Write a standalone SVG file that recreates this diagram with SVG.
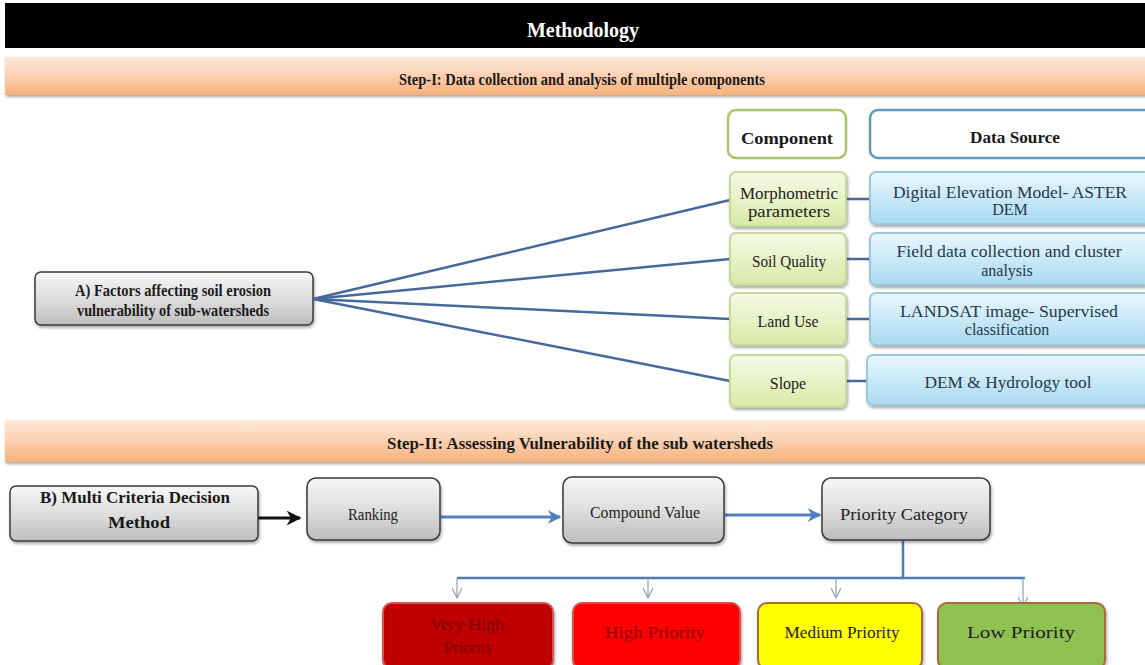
<svg xmlns="http://www.w3.org/2000/svg" width="1145" height="665" viewBox="0 0 1145 665">
<defs>
<linearGradient id="peach" x1="0" y1="0" x2="0" y2="1">
<stop offset="0" stop-color="#fde9d9"/><stop offset="0.5" stop-color="#fbd0b0"/><stop offset="1" stop-color="#f7b07a"/>
</linearGradient>
<linearGradient id="gray" x1="0" y1="0" x2="0" y2="1">
<stop offset="0" stop-color="#f7f7f7"/><stop offset="0.5" stop-color="#dedede"/><stop offset="1" stop-color="#bdbdbd"/>
</linearGradient>
<linearGradient id="green" x1="0" y1="0" x2="0" y2="1">
<stop offset="0" stop-color="#f6fae8"/><stop offset="1" stop-color="#d8e9a6"/>
</linearGradient>
<linearGradient id="blue" x1="0" y1="0" x2="0" y2="1">
<stop offset="0" stop-color="#eaf7fd"/><stop offset="1" stop-color="#a8daf1"/>
</linearGradient>
<filter id="sh" x="-10%" y="-20%" width="130%" height="150%">
<feDropShadow dx="1" dy="2" stdDeviation="1.5" flood-color="#000" flood-opacity="0.35"/>
</filter>
<marker id="ab" viewBox="0 0 10 10" refX="9" refY="5" markerWidth="5" markerHeight="5" orient="auto">
<path d="M0,0 L10,5 L0,10 L3,5 Z" fill="#111"/>
</marker>
<marker id="abl" viewBox="0 0 10 10" refX="9" refY="5" markerWidth="4.5" markerHeight="4.5" orient="auto">
<path d="M0,0 L10,5 L0,10 L3,5 Z" fill="#4f81bd"/>
</marker>
<marker id="av" viewBox="0 0 12 10" refX="11" refY="5" markerWidth="12" markerHeight="10" markerUnits="userSpaceOnUse" orient="auto">
<path d="M1,0 L11,5 L1,10" fill="none" stroke="#8aa0bb" stroke-width="1.2"/>
</marker>
</defs>
<style>
.hb{font-family:"Liberation Serif",serif;font-weight:bold;fill:#1a1a1a}
.t{font-family:"Liberation Serif",serif;fill:#222;font-size:16px}
.ds{fill:#27384a}
.graybox{fill:url(#gray);stroke:#3a3a3a;stroke-width:1.5;filter:url(#sh)}
.gbox{fill:url(#green);stroke:#c6d99a;stroke-width:2;filter:url(#sh)}
.bbox{fill:url(#blue);stroke:#9ec7da;stroke-width:2;filter:url(#sh)}
.fan{stroke:#46699a;stroke-width:2.5;fill:none}
.link{stroke:#46699a;stroke-width:2.5}
.tree{stroke:#4f7bb5;stroke-width:2.5;fill:none}
.drop{stroke:#8aa0bb;stroke-width:1.2;fill:none}
.pbox{stroke-width:2;filter:url(#sh)}
</style>
<rect width="1145" height="665" fill="#ffffff"/>

<g id="title">
<rect x="5" y="3" width="1145" height="45" fill="#000"/>
<text x="583" y="37" text-anchor="middle" class="hb" style="fill:#fff" font-size="20" textLength="112" lengthAdjust="spacingAndGlyphs">Methodology</text>
</g>

<g id="step1">
<rect x="5" y="57" width="1145" height="38" fill="url(#peach)" filter="url(#sh)"/>
<text x="582" y="85" text-anchor="middle" class="hb" font-size="16" textLength="366" lengthAdjust="spacingAndGlyphs">Step-I: Data collection and analysis of multiple  components</text>
</g>

<g id="component-header">
<rect x="728" y="110" width="118" height="48" rx="8" fill="#fff" stroke="#a9c46a" stroke-width="2.5"/>
<text x="787" y="144" text-anchor="middle" class="hb" font-size="16" textLength="92" lengthAdjust="spacingAndGlyphs">Component</text>
</g>
<g id="datasource-header">
<rect x="870" y="110" width="285" height="48" rx="8" fill="#fff" stroke="#5d9db5" stroke-width="2.5"/>
<text x="1015" y="143" text-anchor="middle" class="hb" font-size="16" textLength="90" lengthAdjust="spacingAndGlyphs">Data Source</text>
</g>

<g id="factors">
<rect x="35" y="272" width="278" height="53" rx="6" class="graybox"/>
<text x="173" y="296" text-anchor="middle" class="hb" font-size="16" textLength="196" lengthAdjust="spacingAndGlyphs">A) Factors affecting  soil erosion</text>
<text x="173" y="316" text-anchor="middle" class="hb" font-size="16" textLength="192" lengthAdjust="spacingAndGlyphs">vulnerability  of sub-watersheds</text>
</g>

<g id="connectors">
<path class="fan" d="M313,299 L730,200"/>
<path class="fan" d="M313,299 L730,259"/>
<path class="fan" d="M313,299 L730,319"/>
<path class="fan" d="M313,299 L730,381"/>
<line class="link" x1="846" y1="199" x2="870" y2="199"/>
<line class="link" x1="846" y1="259" x2="870" y2="259"/>
<line class="link" x1="846" y1="319" x2="870" y2="319"/>
<line class="link" x1="846" y1="381" x2="867" y2="381"/>
<line x1="258" y1="518" x2="300" y2="518" stroke="#111" stroke-width="3" marker-end="url(#ab)"/>
<line x1="441" y1="517" x2="560" y2="517" stroke="#4f81bd" stroke-width="3" marker-end="url(#abl)"/>
<line x1="725" y1="515" x2="820" y2="515" stroke="#4f81bd" stroke-width="3" marker-end="url(#abl)"/>
<path class="tree" d="M903,541 L903,578 M457,578 L1025,578"/>
<path class="drop" d="M457,578 L457,598" marker-end="url(#av)"/>
<path class="drop" d="M648,578 L648,598" marker-end="url(#av)"/>
<path class="drop" d="M836,578 L836,598" marker-end="url(#av)"/>
<path class="drop" d="M1023,578 L1023,607" marker-end="url(#av)"/>
</g>

<g id="morphometric">
<rect x="730" y="172" width="116" height="54" rx="6" class="gbox"/>
<text x="789" y="199" text-anchor="middle" class="t" textLength="98" lengthAdjust="spacingAndGlyphs">Morphometric</text>
<text x="789" y="217" text-anchor="middle" class="t" textLength="82" lengthAdjust="spacingAndGlyphs">parameters</text>
</g>
<g id="ds-dem">
<rect x="870" y="172" width="285" height="52" rx="6" class="bbox"/>
<text x="1010" y="198" text-anchor="middle" class="t ds" textLength="234" lengthAdjust="spacingAndGlyphs">Digital  Elevation  Model-  ASTER</text>
<text x="1010" y="215" text-anchor="middle" class="t ds">DEM</text>
</g>

<g id="soil">
<rect x="730" y="233" width="116" height="52" rx="6" class="gbox"/>
<text x="789" y="267" text-anchor="middle" class="t" textLength="74" lengthAdjust="spacingAndGlyphs">Soil  Quality</text>
</g>
<g id="ds-field">
<rect x="870" y="233" width="285" height="52" rx="6" class="bbox"/>
<text x="1009" y="257" text-anchor="middle" class="t ds" textLength="225" lengthAdjust="spacingAndGlyphs">Field  data collection  and  cluster</text>
<text x="1007" y="276" text-anchor="middle" class="t ds">analysis</text>
</g>

<g id="landuse">
<rect x="730" y="293" width="116" height="52" rx="6" class="gbox"/>
<text x="788" y="327" text-anchor="middle" class="t" textLength="61" lengthAdjust="spacingAndGlyphs">Land Use</text>
</g>
<g id="ds-landsat">
<rect x="870" y="293" width="285" height="52" rx="6" class="bbox"/>
<text x="1009" y="317" text-anchor="middle" class="t ds" textLength="218" lengthAdjust="spacingAndGlyphs">LANDSAT image- Supervised</text>
<text x="1007" y="335" text-anchor="middle" class="t ds">classification</text>
</g>

<g id="slope">
<rect x="730" y="355" width="116" height="52" rx="6" class="gbox"/>
<text x="788" y="389" text-anchor="middle" class="t">Slope</text>
</g>
<g id="ds-hydro">
<rect x="867" y="355" width="288" height="50" rx="6" class="bbox"/>
<text x="1008" y="388" text-anchor="middle" class="t ds" textLength="167" lengthAdjust="spacingAndGlyphs">DEM &amp; Hydrology  tool</text>
</g>

<g id="step2">
<rect x="5" y="420" width="1145" height="42" fill="url(#peach)" filter="url(#sh)"/>
<text x="580" y="449" text-anchor="middle" class="hb" font-size="16" textLength="386" lengthAdjust="spacingAndGlyphs">Step-II: Assessing Vulnerability  of the sub watersheds</text>
</g>

<g id="mcdm">
<rect x="10" y="486" width="248" height="55" rx="6" class="graybox"/>
<text x="135" y="503" text-anchor="middle" class="hb" font-size="16" textLength="190" lengthAdjust="spacingAndGlyphs">B) Multi Criteria  Decision</text>
<text x="139" y="528" text-anchor="middle" class="hb" font-size="16" textLength="62" lengthAdjust="spacingAndGlyphs">Method</text>
</g>
<g id="ranking">
<rect x="307" y="478" width="133" height="62" rx="9" class="graybox"/>
<text x="373" y="520" text-anchor="middle" class="t" textLength="50" lengthAdjust="spacingAndGlyphs">Ranking</text>
</g>
<g id="compound">
<rect x="563" y="477" width="161" height="66" rx="9" class="graybox"/>
<text x="645" y="518" text-anchor="middle" class="t" textLength="110" lengthAdjust="spacingAndGlyphs">Compound  Value</text>
</g>
<g id="priority-category">
<rect x="822" y="478" width="168" height="62" rx="9" class="graybox"/>
<text x="904" y="520" text-anchor="middle" class="t" textLength="128" lengthAdjust="spacingAndGlyphs">Priority  Category</text>
</g>

<g id="very-high">
<rect x="383" y="603" width="170" height="66" rx="9" class="pbox" fill="#c00000" stroke="#d05555"/>
<text x="467" y="630" text-anchor="middle" class="t" style="fill:#7a0000" textLength="74" lengthAdjust="spacingAndGlyphs">Very  High</text>
<text x="469" y="653" text-anchor="middle" class="t" style="fill:#7a0000">Priority</text>
</g>
<g id="high">
<rect x="573" y="603" width="167" height="66" rx="9" class="pbox" fill="#ff0000" stroke="#d65050"/>
<text x="655" y="638" text-anchor="middle" class="t" style="fill:#8a0000" textLength="100" lengthAdjust="spacingAndGlyphs">High  Priority</text>
</g>
<g id="medium">
<rect x="758" y="603" width="164" height="66" rx="9" class="pbox" fill="#ffff00" stroke="#a86a3c"/>
<text x="842" y="638" text-anchor="middle" class="t" textLength="115" lengthAdjust="spacingAndGlyphs">Medium  Priority</text>
</g>
<g id="low">
<rect x="938" y="603" width="167" height="66" rx="9" class="pbox" fill="#8fc151" stroke="#a86a3c"/>
<text x="1021" y="638" text-anchor="middle" class="t" textLength="108" lengthAdjust="spacingAndGlyphs">Low Priority</text>
</g>
</svg>
